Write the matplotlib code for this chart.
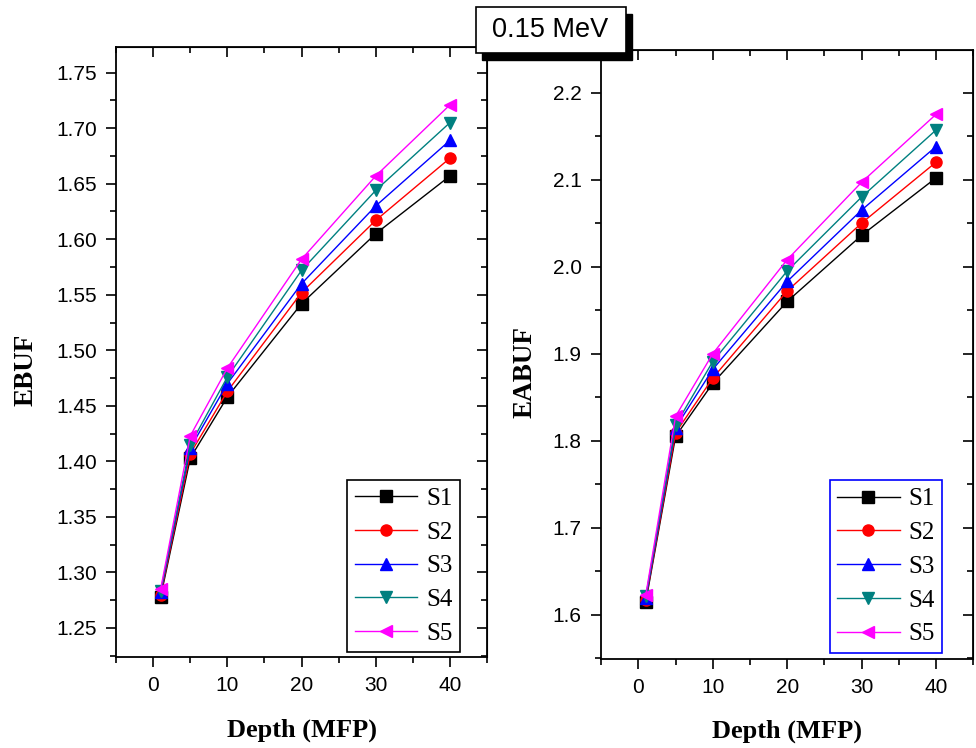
import matplotlib
matplotlib.use("Agg")
import matplotlib.pyplot as plt
from matplotlib.patches import Rectangle
from matplotlib.ticker import MultipleLocator

depth = [1, 5, 10, 20, 30, 40]
series_names = ["S1", "S2", "S3", "S4", "S5"]

ebuf = [
    [1.278, 1.403, 1.458, 1.542, 1.605, 1.657],
    [1.280, 1.407, 1.463, 1.552, 1.617, 1.673],
    [1.282, 1.412, 1.470, 1.560, 1.630, 1.689],
    [1.283, 1.415, 1.476, 1.572, 1.644, 1.705],
    [1.285, 1.423, 1.484, 1.582, 1.657, 1.721],
]
eabuf = [
    [1.615, 1.805, 1.866, 1.960, 2.036, 2.102],
    [1.617, 1.809, 1.872, 1.972, 2.050, 2.120],
    [1.619, 1.815, 1.882, 1.983, 2.065, 2.138],
    [1.621, 1.818, 1.891, 1.995, 2.080, 2.157],
    [1.623, 1.828, 1.900, 2.008, 2.097, 2.175],
]

colors = ["black", "red", "blue", "#008080", "magenta"]
markers = ["s", "o", "^", "v", "<"]

serif = "Liberation Serif"
sans = "Liberation Sans"


def draw_panel(ax, data, ylabel, ylim, ymajor, yminor, legend_edge, legend_anchor,
               ylabel_xy, xlabel_y):
    for vals, name, c, m in zip(data, series_names, colors, markers):
        ax.plot(depth, vals, color=c, marker=m, markersize=8, linewidth=1, label=name)
    ax.set_xlim(-5, 45)
    ax.set_ylim(*ylim)
    ax.xaxis.set_major_locator(MultipleLocator(10))
    ax.xaxis.set_minor_locator(MultipleLocator(5))
    ax.yaxis.set_major_locator(MultipleLocator(ymajor))
    ax.yaxis.set_minor_locator(MultipleLocator(yminor))
    ax.tick_params(which="both", direction="out", top=False, right=False,
                   labelsize=15, width=1.2, pad=6.5)
    ax.tick_params(which="major", length=7.5)
    ax.tick_params(which="minor", length=4)
    # inward ticks on top and right, as in Origin
    sec = ax.secondary_xaxis("top")
    sec.xaxis.set_major_locator(MultipleLocator(10))
    sec.xaxis.set_minor_locator(MultipleLocator(5))
    sec.tick_params(which="both", direction="in", width=1.2, labeltop=False)
    sec.tick_params(which="major", length=7.5)
    sec.tick_params(which="minor", length=4)
    secy = ax.secondary_yaxis("right")
    secy.yaxis.set_major_locator(MultipleLocator(ymajor))
    secy.yaxis.set_minor_locator(MultipleLocator(yminor))
    secy.tick_params(which="both", direction="in", width=1.2, labelright=False)
    secy.tick_params(which="major", length=7.5)
    secy.tick_params(which="minor", length=4)
    for lab in ax.get_xticklabels() + ax.get_yticklabels():
        lab.set_fontfamily(sans)
    for sp in ax.spines.values():
        sp.set_linewidth(1.3)
    ax.set_xlabel("Depth (MFP)", fontsize=19, fontweight="bold", family=serif)
    ax.xaxis.set_label_coords(0.5, xlabel_y)
    ax.set_ylabel(ylabel, fontsize=19.5, fontweight="bold", family=serif)
    ax.yaxis.set_label_coords(*ylabel_xy)
    leg = ax.legend(loc="lower right", bbox_to_anchor=legend_anchor,
                    prop={"family": serif, "size": 18},
                    fancybox=False, framealpha=1, handlelength=2.5,
                    borderaxespad=0, borderpad=0.3, labelspacing=0.45,
                    handletextpad=0.35)
    leg.get_frame().set_edgecolor(legend_edge)
    leg.get_frame().set_linewidth(1.2)


fig = plt.figure(figsize=(9.76, 7.48), dpi=100)
ax1 = fig.add_axes([0.119, 0.122, 0.380, 0.815])
ax2 = fig.add_axes([0.616, 0.119, 0.381, 0.814])

draw_panel(ax1, ebuf, "EBUF", (1.224, 1.773), 0.05, 0.025, "black", (0.927, 0.007),
           (-0.210, 0.47), -0.102)
draw_panel(ax2, eabuf, "EABUF", (1.549, 2.249), 0.1, 0.05, "blue", (0.917, 0.01),
           (-0.172, 0.471), -0.099)

# title box with drop shadow
bx, by, bw, bh = 476 / 976, 1 - 53 / 748, 150 / 976, 46 / 748
fig.add_artist(Rectangle((bx + 6 / 976, by - 7 / 748), bw, bh, transform=fig.transFigure,
                         facecolor="black", edgecolor="black", zorder=10))
fig.add_artist(Rectangle((bx, by), bw, bh, transform=fig.transFigure,
                         facecolor="white", edgecolor="black", linewidth=1.2, zorder=11))
fig.text(bx + bw / 2 - 1 / 976, by + bh / 2, "0.15 MeV", ha="center", va="center",
         fontsize=19.5, family=sans, zorder=12)

fig.savefig("out.png", dpi=100)
